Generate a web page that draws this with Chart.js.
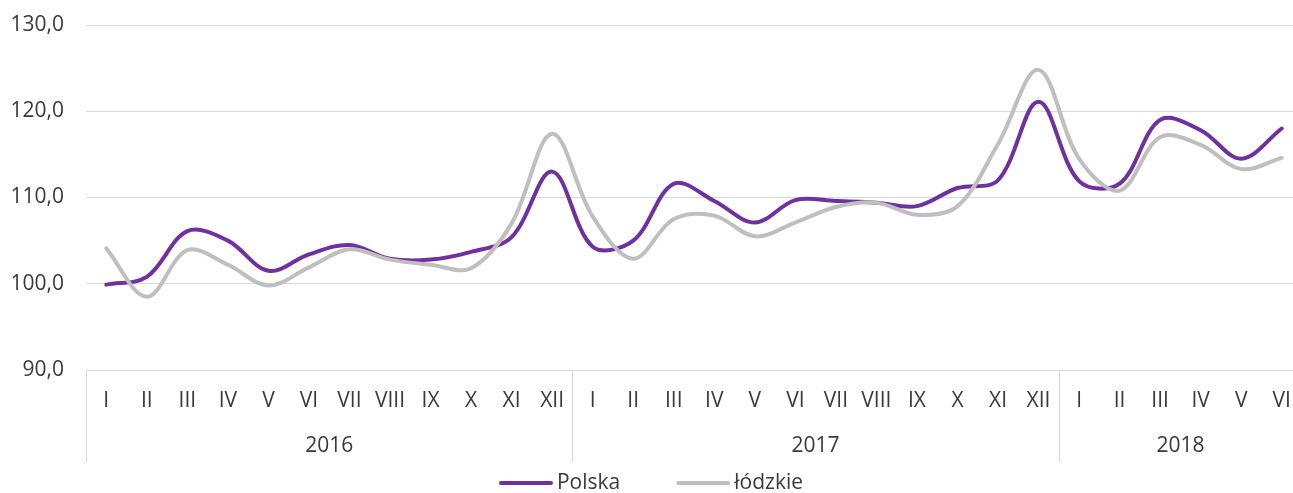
<!DOCTYPE html>
<html><head><meta charset="utf-8">
<script src="https://cdn.jsdelivr.net/npm/chart.js@4/dist/chart.umd.min.js"></script>
<style>html,body{margin:0;padding:0;overflow:hidden;background:#fff;width:1293px;height:493px}canvas{display:block}</style>
</head><body><canvas id="c" width="1302" height="493"></canvas>
<script>
const months = ['I','II','III','IV','V','VI','VII','VIII','IX','X','XI','XII',
                'I','II','III','IV','V','VI','VII','VIII','IX','X','XI','XII',
                'I','II','III','IV','V','VI'];
const years = ['2016','2017','2018'];
const yearLengths = [12,12,6];
const polska = [99.9,100.8,106.1,105.0,101.5,103.4,104.5,102.9,102.8,103.7,105.4,113.0,
                104.3,105.0,111.6,109.6,107.1,109.7,109.6,109.4,109.0,111.1,112.0,121.1,
                111.9,111.6,119.0,117.8,114.5,118.0];
const lodzkie = [104.1,98.5,103.9,102.2,99.8,101.9,104.0,102.8,102.2,101.8,107.0,117.4,
                 107.8,102.9,107.5,107.9,105.5,107.1,108.9,109.4,108.0,109.0,116.2,124.8,
                 114.5,110.8,117.0,116.1,113.3,114.6];
const yMin = 90, yMax = 130, yStep = 10;

const FONT = '"Open Sans", sans-serif';
const FSIZE = 21;
const TXT = '#3a3a3a';
const GRID = '#d9d9d9';

const yearAxisPlugin = {
  id: 'yearAxis',
  afterDraw(chart) {
    const xs = chart.scales.x, ctx = chart.ctx;
    const n = months.length;
    const cw = xs.width / n;
    const top = chart.chartArea.bottom;
    const bottom = 462;
    ctx.save();
    ctx.strokeStyle = GRID;
    ctx.lineWidth = 1;
    ctx.fillStyle = TXT;
    ctx.font = FSIZE + 'px ' + FONT;
    ctx.textAlign = 'center';
    ctx.textBaseline = 'middle';
    let start = 0;
    const drawSep = (px) => {
      const xx = Math.round(px) + 0.5;
      ctx.beginPath(); ctx.moveTo(xx, top); ctx.lineTo(xx, bottom); ctx.stroke();
    };
    years.forEach((yr, i) => {
      const left = xs.getPixelForValue(start) - cw / 2;
      const right = xs.getPixelForValue(start + yearLengths[i] - 1) + cw / 2;
      drawSep(left);
      if (i === years.length - 1) drawSep(right);
      ctx.fillText(yr, (left + right) / 2, 446);
      start += yearLengths[i];
    });

    // legend
    const lineW = 54, gap = 4, itemGap = 56, ly = 483;
    const ds = chart.data.datasets;
    ctx.textAlign = 'left';
    const widths = ds.map(d => ctx.measureText(d.label).width);
    let total = 0;
    ds.forEach((d, i) => { total += lineW + gap + widths[i] + (i < ds.length - 1 ? itemGap : 0); });
    let x = chart.width / 2 - total / 2;
    ctx.lineCap = 'round';
    ctx.lineWidth = 4;
    ds.forEach((d, i) => {
      ctx.strokeStyle = d.borderColor;
      ctx.beginPath(); ctx.moveTo(x + 2, ly); ctx.lineTo(x + lineW - 2, ly); ctx.stroke();
      x += lineW + gap;
      ctx.fillText(d.label, x, ly);
      x += widths[i] + itemGap;
    });
    ctx.restore();
  }
};

new Chart(document.getElementById('c'), {
  type: 'line',
  data: {
    labels: months,
    datasets: [
      { label: 'Polska', data: polska, borderColor: '#7030a0', backgroundColor: '#7030a0',
        borderWidth: 4, pointRadius: 0, tension: 0.35, borderCapStyle: 'round', order: 1 },
      { label: 'łódzkie', data: lodzkie, borderColor: '#bfbfbf', backgroundColor: '#bfbfbf',
        borderWidth: 4, pointRadius: 0, tension: 0.35, borderCapStyle: 'round', order: 0 }
    ]
  },
  options: {
    responsive: false,
    animation: false,
    layout: { padding: { top: 25, right: 0, left: 0, bottom: 20 } },
    plugins: {
      tooltip: { enabled: false },
      legend: { display: false }
    },
    scales: {
      x: {
        offset: true,
        grid: { display: false, drawTicks: false, offset: true },
        border: { display: false },
        ticks: { autoSkip: false, maxRotation: 0, padding: 18, color: TXT,
                 font: { family: FONT, size: FSIZE } },
        afterFit: (s) => { s.height = 103; s.paddingLeft = 0; s.paddingRight = 0; }
      },
      y: {
        min: yMin, max: yMax,
        grid: { color: GRID, drawTicks: false, lineWidth: 1 },
        border: { display: false },
        ticks: { stepSize: yStep, padding: 22, color: TXT,
                 font: { family: FONT, size: FSIZE },
                 callback: (v) => v.toFixed(1).replace('.', ',') },
        afterFit: (s) => { s.width = 86; s.paddingTop = 0; s.paddingBottom = 0; }
      }
    }
  },
  plugins: [yearAxisPlugin]
});
</script>
</body></html>
